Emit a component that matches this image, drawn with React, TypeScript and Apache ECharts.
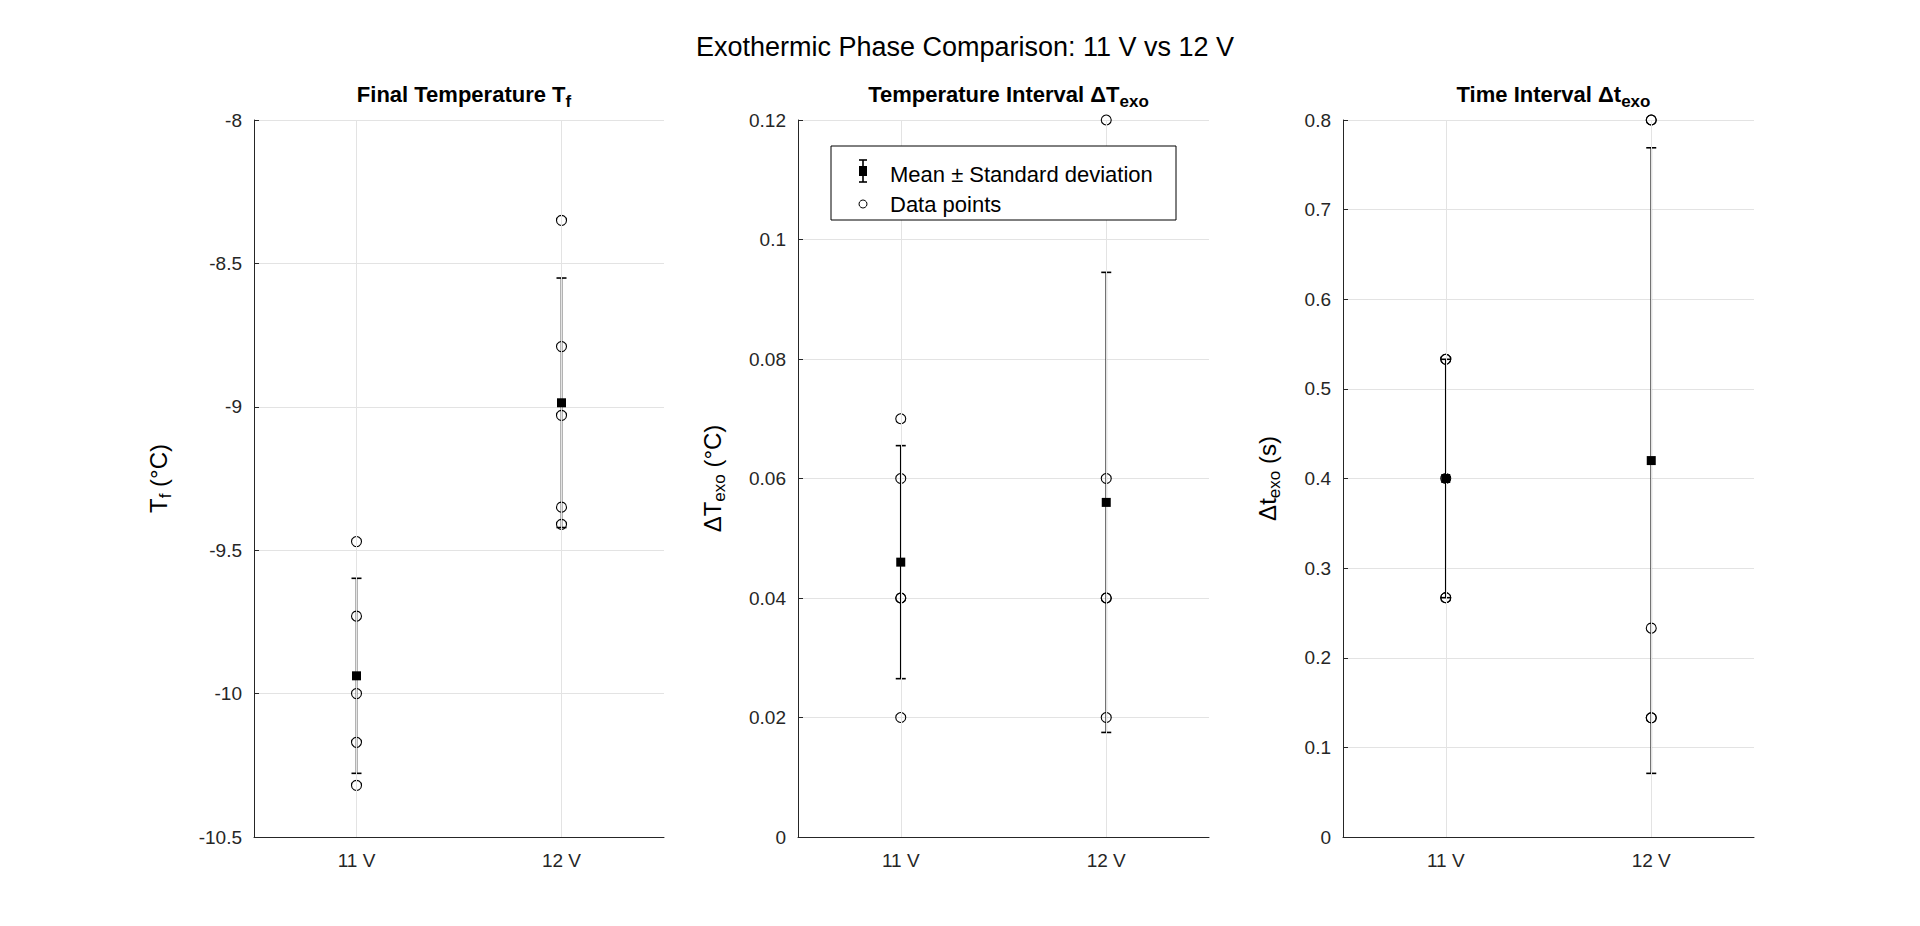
import { useEffect, useRef } from 'react';
import * as echarts from 'echarts';

const categories = ['11 V', '12 V'];

const tfPoints11 = [-9.47, -9.73, -10.0, -10.17, -10.32];
const tfPoints12 = [-8.35, -8.79, -9.03, -9.35, -9.41];
const tfMean = [-9.938, -8.986];
const tfStd = [0.34, 0.435];

const dtPoints11 = [0.07, 0.06, 0.04, 0.04, 0.02];
const dtPoints12 = [0.12, 0.06, 0.04, 0.04, 0.02];
const dtMean = [0.046, 0.056];
const dtStd = [0.0195, 0.0385];

const tiPoints11 = [0.533, 0.533, 0.4, 0.267, 0.267];
const tiPoints12 = [0.8, 0.8, 0.233, 0.133, 0.133];
const tiMean = [0.4, 0.42];
const tiStd = [0.133, 0.349];

const FONT = 'Liberation Sans, Arial, sans-serif';
const grids = [
  { left: 254, width: 410 },
  { left: 798, width: 411 },
  { left: 1343, width: 411 },
];
const TOP = 120;
const BOTTOM = 926 - 837;

const errorBar = (idx: number, mean: number[], std: number[]) => ({
  type: 'custom',
  xAxisIndex: idx,
  yAxisIndex: idx,
  z: 3,
  silent: true,
  itemStyle: { color: '#000', opacity: 1 },
  data: mean.map((m, i) => [i + 1, m - std[i], m + std[i]]),
  renderItem: (_p: any, api: any) => {
    const lo = api.coord([api.value(0), api.value(1)]);
    const hi = api.coord([api.value(0), api.value(2)]);
    const st = { stroke: '#000', lineWidth: 1.6, opacity: 1 };
    return {
      type: 'group',
      children: [
        { type: 'line', shape: { x1: lo[0], y1: lo[1], x2: hi[0], y2: hi[1] }, style: st },
        { type: 'line', shape: { x1: lo[0] - 5, y1: lo[1], x2: lo[0] + 5, y2: lo[1] }, style: st },
        { type: 'line', shape: { x1: hi[0] - 5, y1: hi[1], x2: hi[0] + 5, y2: hi[1] }, style: st },
      ],
    };
  },
});

const pointSeries = (idx: number, p11: number[], p12: number[]) => ({
  type: 'scatter',
  xAxisIndex: idx,
  yAxisIndex: idx,
  z: 4,
  silent: true,
  symbol: 'circle',
  symbolSize: 10,
  itemStyle: { color: 'rgba(255,255,255,0)', borderColor: '#000', borderWidth: 1.1, opacity: 1 },
  data: [...p11.map((v) => [1, v]), ...p12.map((v) => [2, v])],
  markLine: {
    silent: true,
    symbol: 'none',
    label: { show: false },
    lineStyle: { color: '#e3e3e3', type: 'solid', width: 1, opacity: 1 },
    data: [{ xAxis: 1 }, { xAxis: 2 }],
  },
});

const meanSeries = (idx: number, mean: number[]) => ({
  type: 'scatter',
  xAxisIndex: idx,
  yAxisIndex: idx,
  z: 5,
  silent: true,
  symbol: 'rect',
  symbolSize: 9,
  itemStyle: { color: '#000', opacity: 1 },
  data: mean.map((m, i) => [i + 1, m]),
});

const rich = {
  a: { fontFamily: FONT, fontSize: 24, color: '#000' },
  s: { fontFamily: FONT, fontSize: 17, color: '#000', padding: [14, 0, 0, 0] },
  ab: { fontFamily: FONT, fontSize: 22, fontWeight: 'bold', color: '#000' },
  sb: { fontFamily: FONT, fontSize: 17, fontWeight: 'bold', color: '#000', padding: [14, 0, 0, 0] },
};

const yAxes = [
  { min: -10.5, max: -8, interval: 0.5, name: '{a|T}{s|f}{a| (°C)}', gap: 80 },
  { min: 0, max: 0.12, interval: 0.02, name: '{a|ΔT}{s|exo}{a| (°C)}', gap: 70 },
  { min: 0, max: 0.8, interval: 0.1, name: '{a|Δt}{s|exo}{a| (s)}', gap: 60 },
];

const titles = ['{ab|Final Temperature T}{sb|f}', '{ab|Temperature Interval ΔT}{sb|exo}', '{ab|Time Interval Δt}{sb|exo}'];

export default function App() {
  const ref = useRef<HTMLDivElement>(null);

  useEffect(() => {
    if (!ref.current) return;
    const chart = echarts.init(ref.current, null, { renderer: 'svg' });

    chart.setOption({
      animation: false,
      backgroundColor: '#fff',
      title: [
        {
          text: 'Exothermic Phase Comparison: 11 V vs 12 V',
          left: 960,
          top: 28,
          textAlign: 'center',
          textStyle: { fontFamily: FONT, fontSize: 27, fontWeight: 'normal', color: '#000' },
        },
        ...titles.map((t, i) => ({
          text: t,
          left: grids[i].left + grids[i].width / 2,
          top: 74,
          textAlign: 'center',
          textStyle: { rich },
        })),
      ],
      grid: grids.map((g) => ({ left: g.left, width: g.width, top: TOP, bottom: BOTTOM })),
      xAxis: grids.map((_, i) => ({
        type: 'value',
        gridIndex: i,
        min: 0.5,
        max: 2.5,
        splitLine: { show: false },
        axisLine: { onZero: false, lineStyle: { color: '#262626' } },
        axisTick: { show: true, inside: true, length: 5, customValues: [1, 2], lineStyle: { color: '#262626' } },
        axisLabel: {
          customValues: [1, 2],
          formatter: (v: number) => categories[Math.round(v) - 1] ?? '',
          fontFamily: FONT,
          fontSize: 19,
          color: '#262626',
          margin: 14,
        },
      })),
      yAxis: yAxes.map((y, i) => ({
        type: 'value',
        gridIndex: i,
        min: y.min,
        max: y.max,
        interval: y.interval,
        name: y.name,
        nameLocation: 'middle',
        nameGap: y.gap,
        nameRotate: 90,
        nameTextStyle: { rich },
        splitLine: { show: true, lineStyle: { color: '#e3e3e3' } },
        axisLine: { show: true, lineStyle: { color: '#262626' } },
        axisTick: { show: true, inside: true, length: 5, lineStyle: { color: '#262626' } },
        axisLabel: {
          fontFamily: FONT,
          fontSize: 19,
          color: '#262626',
          margin: 12,
          formatter: (v: number) => String(parseFloat(v.toFixed(4))),
        },
      })),
      series: [
        pointSeries(0, tfPoints11, tfPoints12),
        errorBar(0, tfMean, tfStd),
        meanSeries(0, tfMean),
        pointSeries(1, dtPoints11, dtPoints12),
        errorBar(1, dtMean, dtStd),
        meanSeries(1, dtMean),
        pointSeries(2, tiPoints11, tiPoints12),
        errorBar(2, tiMean, tiStd),
        meanSeries(2, tiMean),
      ],
      graphic: [
        {
          type: 'rect',
          shape: { x: 831, y: 146, width: 345, height: 74 },
          style: { fill: '#fff', stroke: '#000', lineWidth: 1 },
          z: 10,
        },
        { type: 'line', z: 11, shape: { x1: 863, y1: 160, x2: 863, y2: 182 }, style: { stroke: '#000', lineWidth: 1.6 } },
        { type: 'line', z: 11, shape: { x1: 859, y1: 160, x2: 867, y2: 160 }, style: { stroke: '#000', lineWidth: 1.6 } },
        { type: 'line', z: 11, shape: { x1: 859, y1: 182, x2: 867, y2: 182 }, style: { stroke: '#000', lineWidth: 1.6 } },
        { type: 'rect', z: 11, shape: { x: 859, y: 166, width: 8, height: 10 }, style: { fill: '#000' } },
        { type: 'circle', z: 11, shape: { cx: 863, cy: 204, r: 4 }, style: { fill: '#fff', stroke: '#000', lineWidth: 1 } },
        {
          type: 'text',
          z: 11,
          x: 890,
          y: 174,
          style: { text: 'Mean ± Standard deviation', fontFamily: FONT, fontSize: 22, fill: '#000', verticalAlign: 'middle' },
        },
        {
          type: 'text',
          z: 11,
          x: 890,
          y: 204,
          style: { text: 'Data points', fontFamily: FONT, fontSize: 22, fill: '#000', verticalAlign: 'middle' },
        },
      ],
    });

    return () => chart.dispose();
  }, []);

  return <div ref={ref} style={{ position: 'fixed', left: 0, top: 0, width: 1920, height: 926 }} />;
}
